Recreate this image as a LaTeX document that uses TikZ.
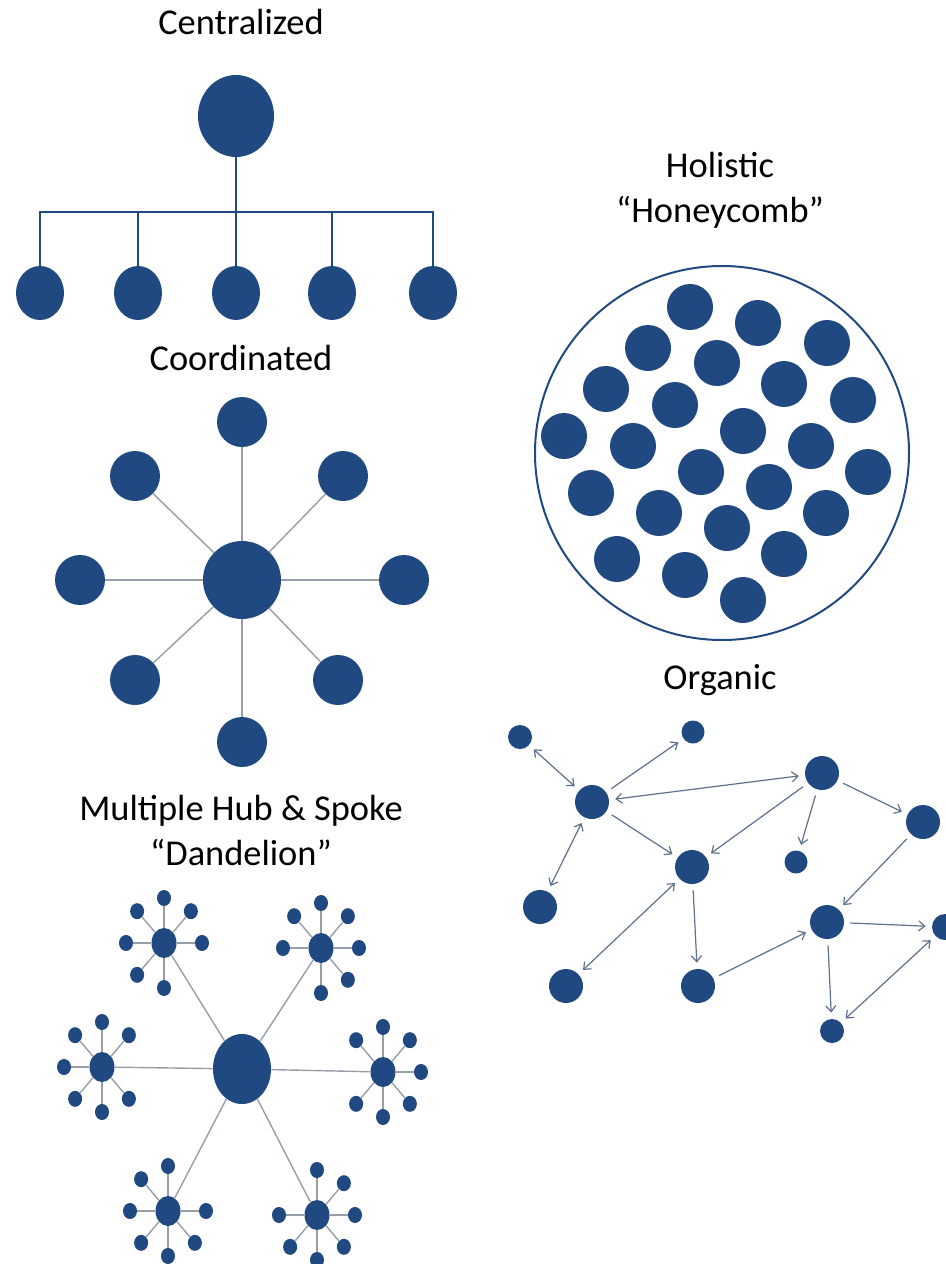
\documentclass[tikz,border=0pt]{standalone}
\usepackage{fontspec}
\setmainfont{Carlito}
\usetikzlibrary{shapes.geometric,arrows.meta}

\definecolor{dblue}{RGB}{31,73,128}
\definecolor{spokegray}{RGB}{150,158,168}
\definecolor{linkgray}{RGB}{95,112,140}

\tikzset{
  blob/.style={circle,fill=dblue,inner sep=0pt,minimum size=#1pt},
  oval/.style 2 args={ellipse,fill=dblue,inner sep=0pt,minimum width=#1pt,minimum height=#2pt},
  title/.style={align=center,font=\fontsize{18.2}{22.5}\selectfont},
  tree/.style={draw=dblue,line width=1pt},
  spoke/.style={draw=spokegray,line width=0.7pt},
  link/.style={draw=linkgray,line width=0.6pt,shorten <=3pt,shorten >=3pt},
  oneway/.style={link,-{Straight Barb[length=3pt,width=5pt]}},
  twoway/.style={link,{Straight Barb[length=3pt,width=5pt]}-{Straight Barb[length=3pt,width=5pt]}}
}

\begin{document}
\begin{tikzpicture}[x=0.5pt,y=-0.5pt]
\useasboundingbox (0,0) rectangle (946,1264);

% Centralized
\node[title] (tcent) at (241,22) {Centralized};
\node[oval={38}{41}] (ctop) at (236,116) {};
\foreach \x [count=\i] in {40,138,236,332,433}
  \node[oval={24}{27}] (c\i) at (\x,293) {};
\coordinate (cbar) at (236,212);
\draw[tree] (ctop) -- (cbar);
\draw[tree] (c1.north) |- (cbar) -| (c5.north);
\foreach \i in {2,3,4}
  \draw[tree] (c\i.north) -- (c\i.north |- cbar);

% Coordinated
\node[title] (tcoord) at (241,358) {Coordinated};
\node[blob=39] (hub) at (242,580) {};
\foreach \x/\y [count=\i] in {242/422,343/476,404/580,338/680,242/742,135/680,80/580,135/476} {
  \node[blob=25] (s\i) at (\x,\y) {};
  \draw[spoke] (hub) -- (s\i);
}

% Holistic honeycomb
\node[title] (thoney) at (720,190) {Holistic\\“Honeycomb”};
\node[circle,draw=dblue,line width=1pt,inner sep=0pt,minimum size=187pt] (ring) at (722,453) {};
\foreach \x/\y [count=\i] in {690/307,758/323,827/343,648/348,717/363,606/389,784/384,853/400,
    675/405,564/436,743/431,633/446,811/446,868/472,701/472,769/487,591/493,826/513,
    659/513,727/528,617/559,784/554,685/575,743/600}
  \node[blob=23] (cell\i) at (\x,\y) {};

% Organic
\node[title] (torg) at (720,680) {Organic};
\node[blob=12] (oa) at (520,737) {};
\node[blob=11.5] (ob) at (693,732) {};
\node[blob=17] (oc) at (592,802) {};
\node[blob=17] (od) at (822,773) {};
\node[blob=17] (oe) at (923,822) {};
\node[blob=17] (of) at (692,867) {};
\node[blob=11.5] (og) at (796,862) {};
\node[blob=17] (oh) at (540,907) {};
\node[blob=17] (oi) at (827,922) {};
\node[blob=13] (oj) at (945,927) {};
\node[blob=17] (ok) at (566,986) {};
\node[blob=17] (ol) at (698,986) {};
\node[blob=12] (om) at (832,1031) {};
\draw[twoway] (oa) -- (oc);
\draw[oneway] (oc) -- (ob);
\draw[twoway] (oc) -- (od);
\draw[oneway] (oc) -- (of);
\draw[twoway] (oc) -- (oh);
\draw[oneway] (od) -- (of);
\draw[oneway] (od) -- (og);
\draw[oneway] (od) -- (oe);
\draw[oneway] (oe) -- (oi);
\draw[twoway] (of) -- (ok);
\draw[oneway] (of) -- (ol);
\draw[oneway] (ol) -- (oi);
\draw[oneway] (oi) -- (oj);
\draw[oneway] (oi) -- (om);
\draw[twoway] (oj) -- (om);

% Multiple hub & spoke
\node[title] (tdand) at (241,830) {Multiple Hub \& Spoke\\“Dandelion”};
\node[oval={29}{35}] (core) at (242,1069) {};
\foreach \x/\y/\skip [count=\i] in {164/943/45,321/948/135,102/1067/0,383/1072/180,168/1211/315,317/1215/225} {
  \node[oval={12.5}{15}] (h\i) at (\x,\y) {};
  \draw[spoke] (core) -- (h\i);
  \foreach \a in {0,45,...,315} {
    \ifnum\a=\skip\relax\else
      \node[oval={7}{8}] (l\i-\a) at ([shift={(\a:38 and 45)}]h\i) {};
      \draw[spoke] (h\i) -- (l\i-\a);
    \fi
  }
}
\end{tikzpicture}
\end{document}
